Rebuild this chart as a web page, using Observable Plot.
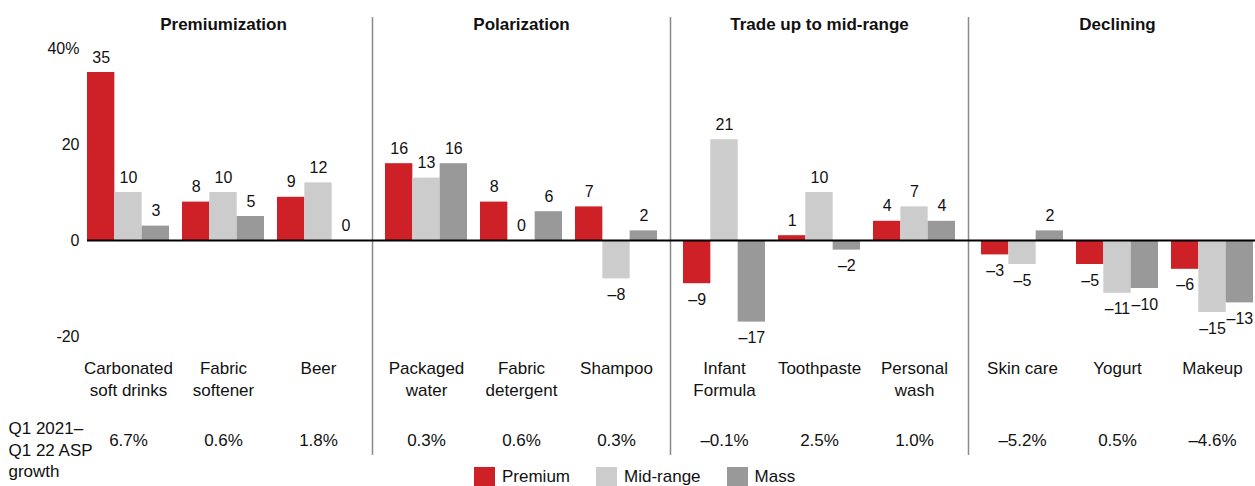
<!DOCTYPE html>
<html>
<head>
<meta charset="utf-8">
<script src="https://cdn.jsdelivr.net/npm/d3@7"></script>
<script src="https://cdn.jsdelivr.net/npm/@observablehq/plot@0.6"></script>
<style>
  html, body { margin: 0; padding: 0; background: #fff; overflow: hidden; width: 1255px; height: 486px; }
  #legend { display: flex; align-items: center; height: 19px; margin-left: 474px; font: 17px "Liberation Sans", Arial, sans-serif; color: #111; }
  #legend .item { display: flex; align-items: center; margin-right: 26px; }
  #legend .sw { width: 21px; height: 19px; margin-right: 7px; }
</style>
</head>
<body>
<div id="chart"></div>
<div id="legend"></div>
<script>
// ---- data ----
const groups = ["Premiumization", "Polarization", "Trade up to mid-range", "Declining"];
const categories = ["Carbonated\nsoft drinks", "Fabric\nsoftener", "Beer",
  "Packaged\nwater", "Fabric\ndetergent", "Shampoo",
  "Infant\nFormula", "Toothpaste", "Personal\nwash",
  "Skin care", "Yogurt", "Makeup"];
const categoryGroup = [0, 0, 0, 1, 1, 1, 2, 2, 2, 3, 3, 3];
const series = ["Premium", "Mid-range", "Mass"];
const premium  = [35, 8, 9, 16, 8, 7, -9, 1, 4, -3, -5, -6];
const midRange = [10, 10, 12, 13, 0, -8, 21, 10, 7, -5, -11, -15];
const mass     = [3, 5, 0, 16, 6, 2, -17, -2, 4, 2, -10, -13];
const aspGrowth = [6.7, 0.6, 1.8, 0.3, 0.6, 0.3, -0.1, 2.5, 1.0, -5.2, 0.5, -4.6];
const rowLabel = "Q1 2021–\nQ1 22 ASP\ngrowth";
const yTicks = [-20, 0, 20, 40];
const colors = ["#cd2027", "#cccccc", "#999999"];

// ---- tables ----
const seriesValues = [premium, midRange, mass];
const cats = categories.map((c, i) => ({
  category: c,
  group: groups[categoryGroup[i]],
  slot: i - categoryGroup.indexOf(categoryGroup[i]),
  asp: aspGrowth[i]
}));
const bars = [];
series.forEach((s, k) => cats.forEach((c, i) => bars.push({...c, series: s, value: seriesValues[k][i]})));
const groupRows = groups.map(g => ({group: g}));

const fmtVal = v => v < 0 ? "–" + Math.abs(v) : String(v);
const fmtPct = v => (v < 0 ? "–" : "") + Math.abs(v).toFixed(1) + "%";

// ---- layout ----
const barW = 27.33;
const step = 95;
const pInner = 1 - barW / step;
const pOuter = (298 / step - 3 + pInner) / 2;
const facetLeftToSlot0 = pOuter * step + barW / 2;

const marks = [];
// group separators
marks.push(Plot.ruleX(groupRows.slice(1), {fx: "group", x: () => 0, dx: -facetLeftToSlot0,
  insetTop: -31, insetBottom: -119, stroke: "#8a8a8a", strokeWidth: 1.5}));
// bars
series.forEach((s, k) => {
  marks.push(Plot.barY(bars.filter(d => d.series === s), {fx: "group", x: "slot", y: "value",
    fill: colors[k], dx: (k - 1) * barW}));
});
// zero line
marks.push(Plot.ruleY(groupRows.slice(0, 1), {fx: "group", y: () => 0, stroke: "#000", strokeWidth: 2, insetLeft: facetLeftToSlot0 - 1.5 * barW}));
marks.push(Plot.ruleY(groupRows.slice(1), {fx: "group", y: () => 0, stroke: "#000", strokeWidth: 2}));
// value labels
series.forEach((s, k) => {
  const d = bars.filter(b => b.series === s);
  marks.push(Plot.text(d.filter(b => b.value >= 0), {fx: "group", x: "slot", y: "value",
    text: b => fmtVal(b.value), dx: (k - 1) * barW, dy: -15, fontSize: 16}));
  marks.push(Plot.text(d.filter(b => b.value < 0), {fx: "group", x: "slot", y: "value",
    text: b => fmtVal(b.value), dx: (k - 1) * barW, dy: 16, fontSize: 16}));
});
// group titles
marks.push(Plot.text(groupRows, {fx: "group", text: "group", frameAnchor: "top", lineAnchor: "middle",
  dy: -24, fontWeight: "bold", fontSize: 17}));
// category labels
marks.push(Plot.text(cats, {fx: "group", x: "slot", text: "category", frameAnchor: "bottom",
  lineAnchor: "top", dy: 23, lineHeight: 1.24, fontSize: 17}));
// ASP growth row
marks.push(Plot.text(cats, {fx: "group", x: "slot", text: d => fmtPct(d.asp), frameAnchor: "bottom",
  lineAnchor: "middle", dy: 104, fontSize: 17}));
// row label
marks.push(Plot.text([{group: groups[0], label: rowLabel}], {fx: "group", text: "label",
  frameAnchor: "bottom-left", textAnchor: "start", lineAnchor: "top", dx: -66, dy: 83,
  lineHeight: 1.24, fontSize: 17}));

const chart = Plot.plot({
  width: 1255,
  height: 467,
  marginLeft: 74,
  marginRight: -11,
  marginTop: 48,
  marginBottom: 131,
  style: {fontFamily: "'Liberation Sans', Arial, sans-serif", fontSize: "16px", color: "#111", overflow: "visible", background: "white"},
  fx: {domain: groups, padding: 0, axis: null},
  x: {type: "band", domain: [0, 1, 2], paddingInner: pInner, paddingOuter: pOuter, round: false, axis: null},
  y: {domain: [-20, 40], ticks: yTicks, tickSize: 0, tickPadding: -5, label: null,
      tickFormat: d => d === 40 ? "40%" : String(d)},
  marks
});
document.getElementById("chart").appendChild(chart);

// legend
const legend = document.getElementById("legend");
series.forEach((s, k) => {
  const item = document.createElement("div");
  item.className = "item";
  const sw = document.createElement("div");
  sw.className = "sw";
  sw.style.background = colors[k];
  const t = document.createElement("span");
  t.textContent = s;
  item.appendChild(sw);
  item.appendChild(t);
  legend.appendChild(item);
});
</script>
</body>
</html>
